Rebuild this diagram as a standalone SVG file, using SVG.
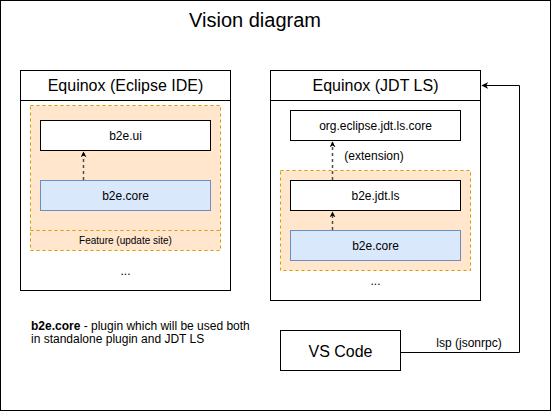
<svg xmlns="http://www.w3.org/2000/svg" width="551" height="411" viewBox="0 0 551 411">
<defs>
<style>
text{font-family:"Liberation Sans",Arial,Helvetica,sans-serif;fill:#000}
.box{fill:#fff;stroke:#000;stroke-width:1}
.core{fill:#dae8fc;stroke:#6c8ebf;stroke-width:1}
.feat{fill:#ffe6cc;stroke:#d79b00;stroke-width:1;stroke-dasharray:3 3}
.dep{fill:none;stroke:#4d4d4d;stroke-width:1.5;stroke-dasharray:3 3}
.wire{fill:none;stroke:#000;stroke-width:1}
.lbl{font-size:12px;text-anchor:middle}
.hdr{font-size:16px;text-anchor:middle}
</style>
<marker id="ah" viewBox="0 0 10 10" refX="9" refY="5" markerWidth="7" markerHeight="7" markerUnits="userSpaceOnUse" orient="auto">
<path d="M0,0 L10,5 L0,10 L3,5 Z" fill="#000"/>
</marker>
<marker id="ahg" viewBox="0 0 10 10" refX="9" refY="5" markerWidth="6" markerHeight="6" markerUnits="userSpaceOnUse" orient="auto">
<path d="M0,0 L10,5 L0,10 L3,5 Z" fill="#000"/>
</marker>
</defs>
<rect x="0.5" y="0.5" width="550" height="410" fill="#fff" stroke="#000"/>
<text x="255" y="27" font-size="20" text-anchor="middle">Vision diagram</text>

<g id="eclipse-ide">
<rect class="box" x="20.5" y="70.5" width="210" height="220"/>
<line class="wire" x1="20.5" y1="100.5" x2="230.5" y2="100.5"/>
<text class="hdr" x="125.5" y="91">Equinox (Eclipse IDE)</text>
<text class="lbl" x="125.5" y="275">...</text>
</g>
<g id="feature-ide">
<rect class="feat" x="30.5" y="105.5" width="190" height="145"/>
<line class="feat" x1="30.5" y1="230.5" x2="220.5" y2="230.5"/>
<text x="125.5" y="244" font-size="10" text-anchor="middle">Feature (update site)</text>
</g>
<g id="b2e-ui">
<rect class="box" x="40.5" y="120.5" width="170" height="30"/>
<text class="lbl" x="125.5" y="140">b2e.ui</text>
</g>
<g id="b2e-core-ide">
<rect class="core" x="40.5" y="180.5" width="170" height="30"/>
<text class="lbl" x="125.5" y="200">b2e.core</text>
</g>

<g id="jdt-ls">
<rect class="box" x="270.5" y="70.5" width="210" height="230"/>
<line class="wire" x1="270.5" y1="100.5" x2="480.5" y2="100.5"/>
<text class="hdr" x="375.5" y="91">Equinox (JDT LS)</text>
<text class="lbl" x="375.5" y="285">...</text>
</g>
<g id="jdt-core">
<rect class="box" x="290.5" y="110.5" width="170" height="30"/>
<text class="lbl" x="375.5" y="130">org.eclipse.jdt.ls.core</text>
</g>
<g id="feature-ls">
<rect class="feat" x="280.5" y="170.5" width="190" height="100"/>
</g>
<g id="b2e-jdt-ls">
<rect class="box" x="290.5" y="180.5" width="170" height="30"/>
<text class="lbl" x="375.5" y="200">b2e.jdt.ls</text>
</g>
<g id="b2e-core-ls">
<rect class="core" x="290.5" y="230.5" width="170" height="30"/>
<text class="lbl" x="375.5" y="250">b2e.core</text>
</g>

<g id="vscode">
<rect class="box" x="280.5" y="330.5" width="120" height="40"/>
<text x="340.5" y="356.5" font-size="16" text-anchor="middle">VS Code</text>
</g>

<g id="note">
<text x="31" y="330" font-size="12"><tspan font-weight="bold">b2e.core</tspan> - plugin which will be used both</text>
<text x="31" y="343" font-size="12">in standalone plugin and JDT LS</text>
</g>

<g id="connectors">
<line class="dep" x1="83.5" y1="180" x2="83.5" y2="152" marker-end="url(#ahg)"/>
<line class="dep" x1="332.5" y1="180" x2="332.5" y2="142" marker-end="url(#ahg)"/>
<line class="dep" x1="332.5" y1="230" x2="332.5" y2="212" marker-end="url(#ahg)"/>
<text class="lbl" x="374" y="160">(extension)</text>
<path class="wire" d="M400.5,352.5 H519.5 V85.5 H482" marker-end="url(#ah)"/>
<text class="lbl" x="469" y="347">lsp (jsonrpc)</text>
</g>
</svg>
